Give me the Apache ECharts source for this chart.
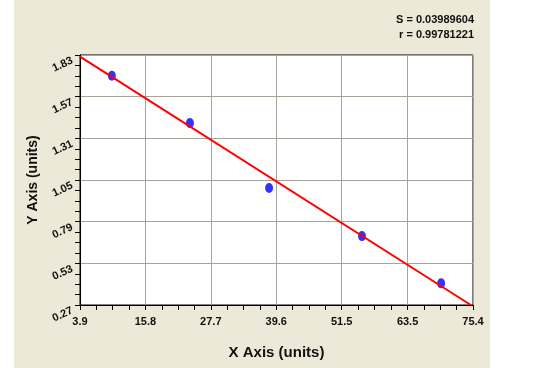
<!DOCTYPE html>
<html>
<head>
<meta charset="utf-8">
<script src="https://cdn.jsdelivr.net/npm/echarts@6/dist/echarts.min.js"></script>
<style>
  html, body { margin: 0; padding: 0; background: #ffffff; }
  #bg { position: absolute; left: 14px; top: 0; width: 476px; height: 368px; background: #ECE9D8; }
  #chart { position: absolute; left: 0; top: 0; width: 549px; height: 368px; }
</style>
</head>
<body>
<div id="bg"></div>
<div id="chart"></div>
<script>
// Data
const pointX = [9.7, 23.9, 38.3, 55.2, 69.6];
const pointY = [1.70, 1.405, 1.00, 0.70, 0.405];
const fitX = [3.9, 75.0];
const fitY = [1.82, 0.27];
const xTickLabels = ['3.9', '15.8', '27.7', '39.6', '51.5', '63.5', '75.4'];
const yTickLabels = ['0.27', '0.53', '0.79', '1.05', '1.31', '1.57', '1.83'];
const statS = 'S = 0.03989604';
const statR = 'r = 0.99781221';

const xTicks = xTickLabels.map(Number);
const yTicks = yTickLabels.map(Number);
function minorOf(ticks, n) {
  const out = [];
  for (let i = 0; i < ticks.length - 1; i++) {
    for (let k = 1; k < n; k++) out.push(ticks[i] + (ticks[i + 1] - ticks[i]) * k / n);
  }
  return out;
}
const xMinor = minorOf(xTicks, 4);
const yMinor = minorOf(yTicks, 4);

function labelFor(ticks, labels) {
  return function (v) {
    for (let i = 0; i < ticks.length; i++) if (Math.abs(ticks[i] - v) < 1e-6) return labels[i];
    return '';
  };
}

const chart = echarts.init(document.getElementById('chart'), null, { renderer: 'canvas' });
const font = 'Arial, "Liberation Sans", sans-serif';
chart.setOption({
  backgroundColor: 'transparent',
  animation: false,
  grid: {
    left: 80, top: 55, right: 76, bottom: 63,
    show: true, backgroundColor: '#ffffff', borderColor: '#000000', borderWidth: 1
  },
  graphic: [
    { type: 'text', right: 549 - 474, top: 14, style: { text: statS, font: 'bold 11px ' + font, fill: '#111', textAlign: 'right' } },
    { type: 'text', right: 549 - 474, top: 29, style: { text: statR, font: 'bold 11px ' + font, fill: '#111', textAlign: 'right' } }
  ],
  xAxis: [
    {
      type: 'value', min: xTicks[0], max: xTicks[xTicks.length - 1], position: 'bottom',
      name: 'X Axis (units)', nameLocation: 'middle', nameGap: 40,
      nameTextStyle: { fontFamily: font, fontWeight: 'bold', fontSize: 15, color: '#111' },
      axisLine: { show: true, lineStyle: { color: '#000', width: 1 } },
      axisTick: { show: true, length: 5, customValues: xTicks, lineStyle: { color: '#000' } },
      axisLabel: { customValues: xTicks, formatter: labelFor(xTicks, xTickLabels), margin: 11,
        fontFamily: font, fontWeight: 'bold', fontSize: 11, color: '#111' },
      splitLine: { show: true, lineStyle: { color: '#A6A398', width: 1 } }
    },
    {
      type: 'value', min: xTicks[0], max: xTicks[xTicks.length - 1], position: 'bottom', offset: 0,
      axisLine: { show: false },
      axisTick: { show: true, length: 5, customValues: xMinor, lineStyle: { color: '#000' } },
      axisLabel: { show: false },
      splitLine: { show: false }
    }
  ],
  yAxis: [
    {
      type: 'value', min: yTicks[0], max: yTicks[yTicks.length - 1], position: 'left',
      name: 'Y Axis (units)', nameLocation: 'middle', nameGap: 40, nameRotate: 90,
      nameTextStyle: { fontFamily: font, fontWeight: 'bold', fontSize: 14, color: '#111' },
      axisLine: { show: true, lineStyle: { color: '#000', width: 1 } },
      axisTick: { show: true, length: 5, customValues: yTicks, lineStyle: { color: '#000' } },
      axisLabel: { customValues: yTicks, formatter: labelFor(yTicks, yTickLabels), margin: 10, rotate: 25,
        verticalAlign: 'top', fontFamily: font, fontWeight: 'bold', fontSize: 11, color: '#111' },
      splitLine: { show: true, lineStyle: { color: '#A6A398', width: 1 } }
    },
    {
      type: 'value', min: yTicks[0], max: yTicks[yTicks.length - 1], position: 'left', offset: 0,
      axisLine: { show: false },
      axisTick: { show: true, length: 5, customValues: yMinor, lineStyle: { color: '#000' } },
      axisLabel: { show: false },
      splitLine: { show: false }
    }
  ],
  series: [
    {
      type: 'scatter', xAxisIndex: 0, yAxisIndex: 0,
      data: pointX.map((x, i) => [x, pointY[i]]),
      symbol: 'circle', symbolSize: [8, 10],
      itemStyle: { color: '#0000FF' }, z: 2
    },
    {
      type: 'line', xAxisIndex: 0, yAxisIndex: 0,
      data: fitX.map((x, i) => [x, fitY[i]]),
      symbol: 'none', lineStyle: { color: '#FF0000', width: 2 }, z: 3
    }
  ]
});
</script>
</body>
</html>
